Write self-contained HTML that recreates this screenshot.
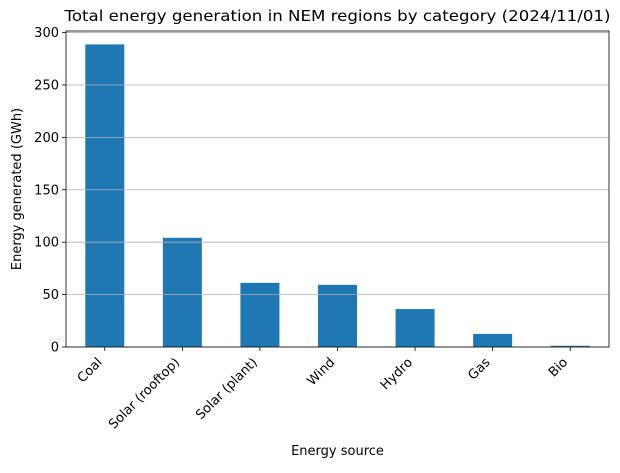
<!DOCTYPE html>
<html><head><meta charset="utf-8"><style>
body{margin:0;background:#fff}
svg text{font-family:"DejaVu Sans","Liberation Sans",sans-serif;fill:#000}
</style></head><body>
<svg id="c" width="620" height="468"></svg>
<script>
const categories=["Coal","Solar (rooftop)","Solar (plant)","Wind","Hydro","Gas","Bio"];
const values=[288.7,104.2,61.2,59.3,36.2,12.5,1.2];
const yTicks=[0,50,100,150,200,250,300];
const svg=document.getElementById('c');
const NS='http://www.w3.org/2000/svg';
const L=66,R=609,T=31,B=347,yMax=301.5;
const y=v=>B-(v/yMax)*(B-T);
const step=(R-L)/categories.length;
const x=i=>L+step*(i+0.5);
function mk(tag,attrs,parent){const e=document.createElementNS(NS,tag);for(const k in attrs)e.setAttribute(k,attrs[k]);(parent||svg).appendChild(e);return e;}
categories.forEach((c,i)=>{
  const b=mk('rect',{x:x(i)-19.5,y:y(values[i]),width:39,height:B-y(values[i]),fill:'#1f77b4'});
  
  
  const t=mk('text',{transform:`translate(${x(i)-2},${B+16}) rotate(-45)`,'text-anchor':'end','font-size':'13'});
  t.textContent=c;
  
  
  mk('line',{x1:x(i),x2:x(i),y1:B,y2:B+4,stroke:'#000','stroke-width':0.8});
});
yTicks.forEach(v=>{
  const g=mk('line',{x1:L,x2:R,y1:y(v),y2:y(v),stroke:'#b0b0b0','stroke-width':0.8});
  
  
  mk('line',{x1:L-4,x2:L,y1:y(v),y2:y(v),stroke:'#000','stroke-width':0.8});
  const t=mk('text',{x:L-7,y:y(v)+4.5,'text-anchor':'end','font-size':'13'});
  t.textContent=v;
  
  
});
const f=mk('rect',{x:L,y:T,width:R-L,height:B-T,fill:'none',stroke:'#000','stroke-width':0.8});


const title=mk('text',{x:(L+R)/2,y:21,'text-anchor':'middle','font-size':'15.3','textLength':'546','lengthAdjust':'spacingAndGlyphs'});
title.textContent='Total energy generation in NEM regions by category (2024/11/01)';


const xl=mk('text',{x:(L+R)/2,y:455,'text-anchor':'middle','font-size':'13'});
xl.textContent='Energy source';


const yl=mk('text',{transform:`translate(21,${(T+B)/2}) rotate(-90)`,'text-anchor':'middle','font-size':'13'});
yl.textContent='Energy generated (GWh)';


</script>
</body></html>
